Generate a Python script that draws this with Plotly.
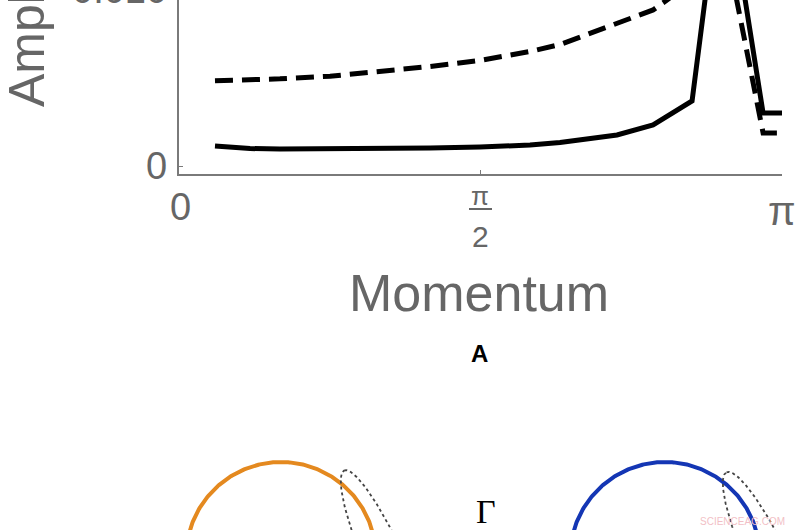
import numpy as np
import plotly.graph_objects as go

W, H = 800, 530

# ---------------- data ----------------
momentum = [0.1875, 0.370, 0.526, 0.787, 1.047, 1.308, 1.568, 1.829, 1.985,
            2.157, 2.282, 2.470, 2.673, 2.834, 3.043, 3.1416]
amp_solid = [0.00116, 0.00101, 0.00098, 0.00098, 0.00101, 0.00104, 0.00110,
             0.00121, 0.00136, 0.00162, 0.00179, 0.00237, 0.00376, 0.01769,
             0.00306, 0.00306]
amp_dashed = [0.00493, 0.00497, 0.00504, 0.00519, 0.00545, 0.00575, 0.00610,
              0.00662, 0.00702, 0.00772, 0.00821, 0.00902, 0.01064, 0.01358,
              0.00191, 0.00191]

x_tickvals = [0, np.pi / 2, np.pi]
y_tickvals = [0, 0.010]
y_ticktext = ["0", "0.010"]

x_title = "Momentum"
y_title = "Amplitude"
panel_label = "A"
gamma_label = "Γ"
watermark = "SCIENCEAG.COM"

# ---------------- layout geometry (reference pixels) ----------------
plot_left, plot_right = 179, 782
plot_top, plot_bottom = 0, 174
y_zero_px = 166
px_per_unit = 17300.0

def px(x):
    return x / W

def py(y):
    return 1 - y / H

y_lo = (y_zero_px - plot_bottom) / px_per_unit
y_hi = (y_zero_px - plot_top) / px_per_unit

GREY = "#666666"
AXIS = "#7a7a7a"

fig = go.Figure()

fig.add_trace(go.Scatter(x=momentum, y=amp_dashed, mode="lines",
                         line=dict(color="black", width=5, dash="18px,9px"),
                         xaxis="x", yaxis="y", hoverinfo="skip"))
fig.add_trace(go.Scatter(x=momentum, y=amp_solid, mode="lines",
                         line=dict(color="black", width=5),
                         xaxis="x", yaxis="y", hoverinfo="skip"))

# ---------------- lower diagram (pixel-coordinate axes) ----------------
th = np.linspace(0, 2 * np.pi, 400)
circles = [dict(cx=281, cy=557, r=95, color="#E4891F"),
           dict(cx=665, cy=557, r=95, color="#1436B4")]
for c in circles:
    fig.add_trace(go.Scatter(x=c["cx"] + c["r"] * np.cos(th),
                             y=c["cy"] + c["r"] * np.sin(th), mode="lines",
                             line=dict(color=c["color"], width=4),
                             xaxis="x2", yaxis="y2", hoverinfo="skip"))

loops = [dict(cx=389, cy=571, a=110, b=20, tilt=np.deg2rad(24)),
         dict(cx=773, cy=572, a=110, b=21, tilt=np.deg2rad(25))]
for L in loops:
    u = L["a"] * np.cos(th)
    v = L["b"] * np.sin(th)
    dx, dy = np.sin(L["tilt"]), np.cos(L["tilt"])
    xs = L["cx"] - u * dx + v * dy
    ys = L["cy"] - u * dy - v * dx
    fig.add_trace(go.Scatter(x=xs, y=ys, mode="lines",
                             line=dict(color="#444444", width=1.8, dash="dot"),
                             xaxis="x2", yaxis="y2", hoverinfo="skip"))

annotations = []
# x tick labels
annotations.append(dict(x=px(180), y=py(207), text="0", font=dict(size=38, color=GREY)))
annotations.append(dict(x=px(480), y=py(196), text="π", font=dict(size=26, color=GREY)))
annotations.append(dict(x=px(480), y=py(236), text="2", font=dict(size=30, color=GREY)))
annotations.append(dict(x=px(782), y=py(211), text="π", font=dict(size=40, color=GREY)))
# y tick labels
for val, txt in zip(y_tickvals, y_ticktext):
    ypix = y_zero_px - val * px_per_unit
    annotations.append(dict(x=px(169), y=py(ypix), text=txt, xanchor="right",
                            yshift=3 if val > 0 else 0,
                            font=dict(size=38, color=GREY)))
# axis titles
annotations.append(dict(x=px(479), y=py(293), text=x_title, font=dict(size=52, color=GREY)))
annotations.append(dict(x=px(27), y=py(-4), text=y_title, textangle=-90,
                        font=dict(size=50, color=GREY)))
annotations.append(dict(x=px(479), y=py(353), text="<b>%s</b>" % panel_label,
                        font=dict(size=24, color="black")))
annotations.append(dict(x=px(486), y=py(511), text=gamma_label,
                        font=dict(size=34, color="black", family="Liberation Serif")))
annotations.append(dict(x=px(742), y=py(521), text=watermark,
                        font=dict(size=10, color="#F2BFC6")))
for a in annotations:
    a.setdefault("xanchor", "center")
    a.update(xref="paper", yref="paper", yanchor="middle", showarrow=False)

shapes = [dict(type="line", xref="paper", yref="paper",
               x0=px(469), x1=px(492), y0=py(209), y1=py(209),
               line=dict(color=GREY, width=2))]

fig.update_layout(
    width=W, height=H,
    margin=dict(l=0, r=0, t=0, b=0),
    paper_bgcolor="white", plot_bgcolor="rgba(0,0,0,0)",
    showlegend=False,
    font=dict(family="Liberation Sans, Arial, sans-serif"),
    xaxis=dict(domain=[px(plot_left), px(plot_right)], range=[0, np.pi],
               anchor="y", showline=True, linecolor=AXIS, linewidth=1.5,
               ticks="inside", tickvals=x_tickvals, ticklen=4, tickcolor=AXIS,
               showticklabels=False, showgrid=False, zeroline=False,
               automargin=False, fixedrange=True),
    yaxis=dict(domain=[py(plot_bottom), py(plot_top)], range=[y_lo, y_hi],
               anchor="x", showline=True, linecolor=AXIS, linewidth=1.5,
               ticks="inside", tickvals=y_tickvals, ticklen=4, tickcolor=AXIS,
               showticklabels=False, showgrid=False, zeroline=False,
               automargin=False, fixedrange=True),
    xaxis2=dict(domain=[0, 1], range=[0, W], anchor="y2", visible=False,
                fixedrange=True),
    yaxis2=dict(domain=[0, 1], range=[H, 0], anchor="x2", visible=False,
                fixedrange=True),
    annotations=annotations,
    shapes=shapes,
)

fig.write_html("out.html", config={"displayModeBar": False},
               post_script="document.body.style.margin='0';document.body.style.overflow='hidden';")
